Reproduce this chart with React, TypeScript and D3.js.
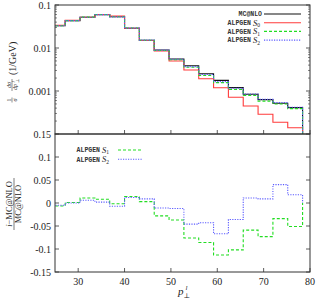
import React from "react";
import * as d3 from "d3";

// bin edges in p_T (GeV)
const binEdges = [24, 27.2, 30.4, 33.6, 36.8, 40, 43.2, 46.4, 49.6, 52.8, 56, 59.2, 62.4, 65.6, 68.8, 72, 75.2, 78.4];

// normalised distributions (1/GeV)
const mcnlo = [0.033, 0.0432, 0.0517, 0.0595, 0.0534, 0.0287, 0.0151, 0.009, 0.00555, 0.00386, 0.00252, 0.00177, 0.0012, 0.00084, 0.00063, 0.00052, 0.00041];
const alpS0 = [0.0335, 0.0438, 0.052, 0.06, 0.055, 0.0287, 0.015, 0.0085, 0.005, 0.00308, 0.00193, 0.00119, 0.000713, 0.000448, 0.000287, 0.000187, 0.00014];
const alpS1 = [0.0328, 0.0432, 0.0523, 0.06, 0.0533, 0.0291, 0.01515, 0.00875, 0.00534, 0.00357, 0.0023, 0.00157, 0.00108, 0.00079, 0.00058, 0.0005, 0.00039];
const alpS2 = [0.0328, 0.0432, 0.052, 0.0596, 0.053, 0.029, 0.01524, 0.00891, 0.00548, 0.00368, 0.00241, 0.00165, 0.00116, 0.00085, 0.00064, 0.00054, 0.00042];

// ratios (i - MC@NLO) / MC@NLO
const ratioS1 = [-0.0065, 0.001, 0.011, 0.008, -0.0015, 0.014, 0.003, -0.028, -0.037, -0.076, -0.086, -0.113, -0.102, -0.059, -0.073, -0.034, -0.051];
const ratioS2 = [-0.005, 0.0, 0.006, 0.002, -0.007, 0.012, 0.009, -0.011, -0.012, -0.046, -0.043, -0.067, -0.036, 0.011, 0.009, 0.04, 0.018];

const xTicks = [30, 40, 50, 60, 70, 80];
const topTicks = [0.1, 0.01, 0.001];
const topTickLabels = ["0.1", "0.01", "0.001"];
const lowTicks = [0.15, 0.1, 0.05, 0, -0.05, -0.1, -0.15];
const lowTickLabels = ["0.15", "0.1", "0.05", "0", "-0.05", "-0.1", "-0.15"];

const LEFT = 55;
const RIGHT = 310;
const TOP = 5;
const MID = 134;
const BOTTOM = 272;

const RED = "#ff3b3b";
const GREEN = "#22dd22";
const BLUE = "#5b5bff";
const FRAME = "#333";
const SERIF = "'Liberation Serif', 'DejaVu Serif', serif";
const MONO = "'Liberation Mono', 'DejaVu Sans Mono', monospace";

const App = () => {
  const xScale = d3.scaleLinear().domain([25, 80]).range([LEFT, RIGHT]);
  const yTop = d3.scaleLog().domain([1e-4, 0.1]).range([MID, TOP]);
  const yLow = d3.scaleLinear().domain([-0.15, 0.15]).range([BOTTOM, MID]);

  const line = d3
    .line<[number, number]>()
    .x(d => xScale(d[0]))
    .curve(d3.curveStepAfter);

  const topPath = (vals: number[]) => {
    const pts: [number, number][] = vals.map((v, i) => [binEdges[i], v]);
    pts.push([binEdges[binEdges.length - 1], vals[vals.length - 1]]);
    pts.push([binEdges[binEdges.length - 1], 1e-4]);
    return line.y(d => yTop(d[1]))(pts) ?? "";
  };
  const lowPath = (vals: number[]) => {
    const pts: [number, number][] = vals.map((v, i) => [binEdges[i], v]);
    pts.push([binEdges[binEdges.length - 1], vals[vals.length - 1]]);
    pts.push([binEdges[binEdges.length - 1], 0]);
    return line.y(d => yLow(d[1]))(pts) ?? "";
  };

  // minor log ticks
  const minor: number[] = [];
  [1e-4, 1e-3, 1e-2].forEach(dec => {
    for (let m = 2; m <= 9; m++) minor.push(dec * m);
  });

  const series = [
    { vals: mcnlo, color: "#111", dash: undefined },
    { vals: alpS0, color: RED, dash: undefined },
    { vals: alpS1, color: GREEN, dash: "3,2" },
    { vals: alpS2, color: BLUE, dash: "1.2,1.3" },
  ];

  const legendTop = [
    { name: "MC@NLO", sub: "", color: "#111", dash: undefined },
    { name: "ALPGEN", sub: "0", color: RED, dash: undefined },
    { name: "ALPGEN", sub: "1", color: GREEN, dash: "3,2" },
    { name: "ALPGEN", sub: "2", color: BLUE, dash: "1.2,1.3" },
  ];

  return (
    <svg width={316} height={300} style={{ position: "absolute", left: 0, top: 0, background: "#fff" }}>
      <defs>
        <clipPath id="clipTop">
          <rect x={LEFT} y={TOP} width={RIGHT - LEFT} height={MID - TOP} />
        </clipPath>
        <clipPath id="clipLow">
          <rect x={LEFT} y={MID} width={RIGHT - LEFT} height={BOTTOM - MID} />
        </clipPath>
      </defs>

      {/* top panel curves */}
      <g clipPath="url(#clipTop)" fill="none">
        {series.map((s, i) => (
          <path key={i} d={topPath(s.vals)} stroke={s.color} strokeWidth={1.1} strokeDasharray={s.dash} />
        ))}
      </g>

      {/* lower panel curves */}
      <g clipPath="url(#clipLow)" fill="none">
        <path d={lowPath(ratioS1)} stroke={GREEN} strokeWidth={1.1} strokeDasharray="3,2" />
        <path d={lowPath(ratioS2)} stroke={BLUE} strokeWidth={1.1} strokeDasharray="1.2,1.3" />
      </g>

      {/* frames */}
      <rect x={LEFT} y={TOP} width={RIGHT - LEFT} height={MID - TOP} fill="none" stroke={FRAME} strokeWidth={1} />
      <rect x={LEFT} y={MID} width={RIGHT - LEFT} height={BOTTOM - MID} fill="none" stroke={FRAME} strokeWidth={1} />

      {/* x ticks */}
      {xTicks.map(t => (
        <g key={t} stroke={FRAME} strokeWidth={0.8}>
          <line x1={xScale(t)} x2={xScale(t)} y1={MID} y2={MID - 4} />
          <line x1={xScale(t)} x2={xScale(t)} y1={BOTTOM} y2={BOTTOM - 4} />
        </g>
      ))}
      {xTicks.map(t => (
        <text key={t} x={xScale(t)} y={285} textAnchor="middle" fontFamily={SERIF} fontSize={10} fill="#222">
          {t}
        </text>
      ))}

      {/* top y ticks */}
      {topTicks.map((t, i) => (
        <g key={t}>
          <line x1={LEFT} x2={LEFT + 4} y1={yTop(t)} y2={yTop(t)} stroke={FRAME} strokeWidth={0.8} />
          <line x1={RIGHT} x2={RIGHT - 4} y1={yTop(t)} y2={yTop(t)} stroke={FRAME} strokeWidth={0.8} />
          <text x={LEFT - 4} y={yTop(t)} dy="0.35em" textAnchor="end" fontFamily={SERIF} fontSize={10} fill="#222">
            {topTickLabels[i]}
          </text>
        </g>
      ))}
      {minor.map(t => (
        <g key={t} stroke={FRAME} strokeWidth={0.6}>
          <line x1={LEFT} x2={LEFT + 2} y1={yTop(t)} y2={yTop(t)} />
          <line x1={RIGHT} x2={RIGHT - 2} y1={yTop(t)} y2={yTop(t)} />
        </g>
      ))}

      {/* lower y ticks */}
      {lowTicks.map((t, i) => (
        <g key={t}>
          <line x1={LEFT} x2={LEFT + 4} y1={yLow(t)} y2={yLow(t)} stroke={FRAME} strokeWidth={0.8} />
          <line x1={RIGHT} x2={RIGHT - 4} y1={yLow(t)} y2={yLow(t)} stroke={FRAME} strokeWidth={0.8} />
          <text x={LEFT - 4} y={yLow(t)} dy="0.35em" textAnchor="end" fontFamily={SERIF} fontSize={10} fill="#222">
            {lowTickLabels[i]}
          </text>
        </g>
      ))}

      {/* top legend */}
      {legendTop.map((l, i) => {
        const y = 14 + i * 8.7;
        return (
          <g key={i}>
            {l.sub === "" ? (
              <text x={262} y={y} dy="0.35em" textAnchor="end" fontFamily={MONO} fontWeight="bold" fontSize={6.5} fill="#333">
                {l.name}
              </text>
            ) : (
              <>
                <text x={251} y={y} dy="0.35em" textAnchor="end" fontFamily={MONO} fontWeight="bold" fontSize={6.5} fill="#333">
                  {l.name}
                </text>
                <text x={253} y={y} dy="0.35em" fontFamily={SERIF} fontSize={8.5} fill="#222">
                  <tspan fontStyle="italic">S</tspan>
                  <tspan fontSize={5.5} dy={1.5}>{l.sub}</tspan>
                </text>
              </>
            )}
            <line x1={264} x2={301} y1={y} y2={y} stroke={l.color} strokeWidth={1.1} strokeDasharray={l.dash} />
          </g>
        );
      })}

      {/* lower legend */}
      {legendTop.slice(2).map((l, i) => {
        const y = 150 + i * 9.3;
        return (
          <g key={i}>
            <text x={100} y={y} dy="0.35em" textAnchor="end" fontFamily={MONO} fontWeight="bold" fontSize={6.5} fill="#333">
              {l.name}
            </text>
            <text x={102} y={y} dy="0.35em" fontFamily={SERIF} fontSize={8.5} fill="#222">
              <tspan fontStyle="italic">S</tspan>
              <tspan fontSize={5.5} dy={1.5}>{l.sub}</tspan>
            </text>
            <line x1={118} x2={143} y1={y} y2={y} stroke={l.color} strokeWidth={1.1} strokeDasharray={l.dash} />
          </g>
        );
      })}

      {/* top y label */}
      <g transform="translate(12,68) rotate(-90)" fontFamily={SERIF} fill="#222">
        <text x={-32} y={-1.5} textAnchor="middle" fontSize={6}>1</text>
        <line x1={-34.5} x2={-29.5} y1={0} y2={0} stroke="#222" strokeWidth={0.5} />
        <text x={-32} y={5} textAnchor="middle" fontSize={6} fontStyle="italic">σ</text>
        <text x={-17} y={-1.5} textAnchor="middle" fontSize={6} fontStyle="italic">dσ</text>
        <line x1={-23} x2={-11} y1={0} y2={0} stroke="#222" strokeWidth={0.5} />
        <text x={-19} y={5} textAnchor="middle" fontSize={6} fontStyle="italic">
          dp
        </text>
        <text x={-15} y={6.5} fontSize={4.5}>⊥</text>
        <text x={-14.5} y={2.5} fontSize={4.5} fontStyle="italic">l</text>
        <text x={-7} y={3.5} fontSize={10}>(1/GeV)</text>
      </g>

      {/* lower y label */}
      <g transform="translate(14,204) rotate(-90)" fontFamily={SERIF} fill="#222">
        <text x={0} y={-2} textAnchor="middle" fontSize={8.5}>
          <tspan fontStyle="italic">i</tspan>−MC@NLO
        </text>
        <line x1={-26} x2={26} y1={0} y2={0} stroke="#222" strokeWidth={0.6} />
        <text x={0} y={7} textAnchor="middle" fontSize={8.5}>MC@NLO</text>
      </g>

      {/* x label */}
      <text x={178} y={295} fontFamily={SERIF} fontSize={11} fill="#222">
        <tspan fontStyle="italic">p</tspan>
        <tspan fontSize={7} dy={2.5}>⊥</tspan>
        <tspan fontSize={7} fontStyle="italic" dx={-4.5} dy={-8}>l</tspan>
      </text>
    </svg>
  );
};

export default App;
